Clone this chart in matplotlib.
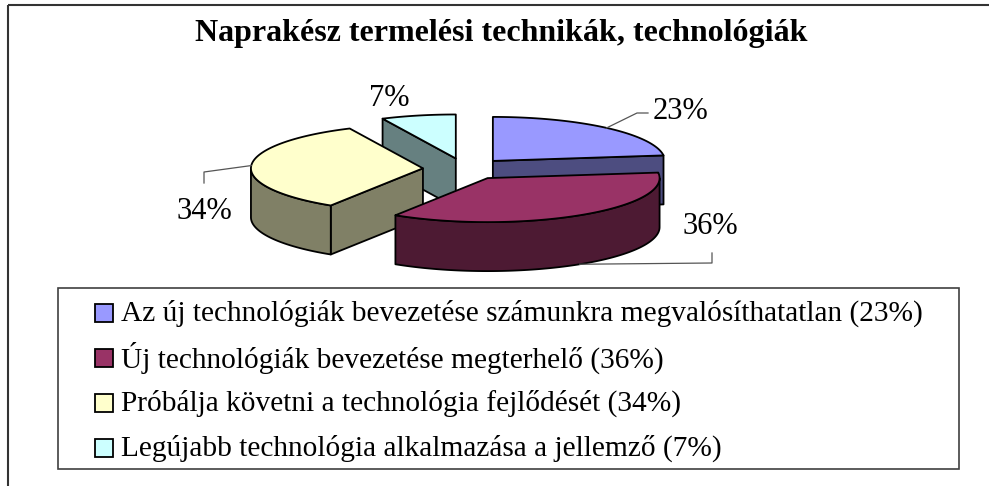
import numpy as np
import matplotlib.pyplot as plt
from matplotlib.patches import Polygon, Rectangle

plt.rcParams['font.family'] = ['Liberation Serif', 'DejaVu Serif']

title = 'Naprakész termelési technikák, technológiák'
categories = [
    'Az új technológiák bevezetése számunkra megvalósíthatatlan (23%)',
    'Új technológiák bevezetése megterhelő (36%)',
    'Próbálja követni a technológia fejlődését (34%)',
    'Legújabb technológia alkalmazása a jellemző (7%)',
]
values = [23, 36, 34, 7]

top_colors = ['#9999FF', '#993366', '#FFFFCC', '#CCFFFF']
side_colors = ['#4D4D80', '#4D1A33', '#808066', '#668080']

# layout in pixel units (y goes down)
cx, cy = 465, 169
rx, ry = 172, 44
depth = 49
explode = 0.245
label_pos = [(680, 111), (710, 226), (204, 211), (389, 98)]
# leader elbows, and whether the leader starts on the bottom rim
leaders = [[(637, 113), (648, 113)], [(712, 263), (712, 253)],
           [(204, 172), (204, 183)], None]
leader_bottom = [False, True, False, False]

fig = plt.figure(figsize=(9.89, 4.86), dpi=100)
ax = fig.add_axes([0, 0, 1, 1])
ax.set_xlim(0, 989)
ax.set_ylim(486, 0)
ax.axis('off')

# outer chart frame (cut at right and bottom in the original)
ax.add_patch(Rectangle((8, 5), 1100, 600, fill=False, ec='#333333', lw=1.5))

ax.text(501, 33, title, ha='center', va='center', fontsize=23, fontweight='bold',
        family='Liberation Serif')


def rim(x0, y0, t, dz=0):
    return x0 + rx * np.cos(t), y0 - ry * np.sin(t) + dz


total = float(sum(values))
ends = 90 - 360 * np.cumsum(values) / total
starts = ends + 360 * np.array(values) / total
mids = (starts + ends) / 2

centers = []
for i in range(len(values)):
    m = np.radians(mids[i])
    centers.append((cx + explode * rx * np.cos(m), cy - explode * ry * np.sin(m)))

edge = dict(ec='black', lw=1.3, joinstyle='round')

# back slices first
for i in np.argsort([c[1] for c in centers]):
    ox, oy = centers[i]
    a1 = np.radians(ends[i])
    a2 = np.radians(starts[i])

    # flat cut faces that look towards the viewer
    for a, n in ((a1, a1 - np.pi / 2), (a2, a2 + np.pi / 2)):
        if np.sin(n) < -1e-6:
            px, py = rim(ox, oy, a)
            quad = [(ox, oy), (px, py), (px, py + depth), (ox, oy + depth)]
            ax.add_patch(Polygon(quad, closed=True, fc=side_colors[i], **edge))

    # curved outer side, front half only
    for k in (-1, 0, 1):
        lo = max(a1, -np.pi + 2 * np.pi * k)
        hi = min(a2, 2 * np.pi * k)
        if hi - lo > 1e-6:
            ts = np.linspace(lo, hi, 200)
            xs, ys = rim(ox, oy, ts)
            pts = list(zip(xs, ys)) + list(zip(xs[::-1], ys[::-1] + depth))
            ax.add_patch(Polygon(pts, closed=True, fc=side_colors[i], **edge))

    # top face
    ts = np.linspace(a1, a2, 200)
    xs, ys = rim(ox, oy, ts)
    pts = [(ox, oy)] + list(zip(xs, ys))
    ax.add_patch(Polygon(pts, closed=True, fc=top_colors[i], **edge))

# percentage labels with leader lines
for i, v in enumerate(values):
    ox, oy = centers[i]
    if leaders[i] is not None:
        sx, sy = rim(ox, oy, np.radians(mids[i]), depth if leader_bottom[i] else 0)
        lx = [sx] + [p[0] for p in leaders[i]]
        ly = [sy] + [p[1] for p in leaders[i]]
        ax.plot(lx, ly, color='#555555', lw=0.9)
    ax.text(label_pos[i][0], label_pos[i][1], f'{v}%', ha='center', va='center',
            fontsize=22, family='Liberation Serif')

# legend
ax.add_patch(Rectangle((58, 288), 901, 181, fill=False, ec='#404040', lw=1.2))
for i, name in enumerate(categories):
    y = 313 + 45 * i
    ax.add_patch(Rectangle((95, y - 9), 18, 18, fc=top_colors[i], ec='black', lw=1.3))
    ax.text(121, y, name, ha='left', va='center', fontsize=21.2,
            family='Liberation Serif')

fig.savefig('out.png', dpi=100)
